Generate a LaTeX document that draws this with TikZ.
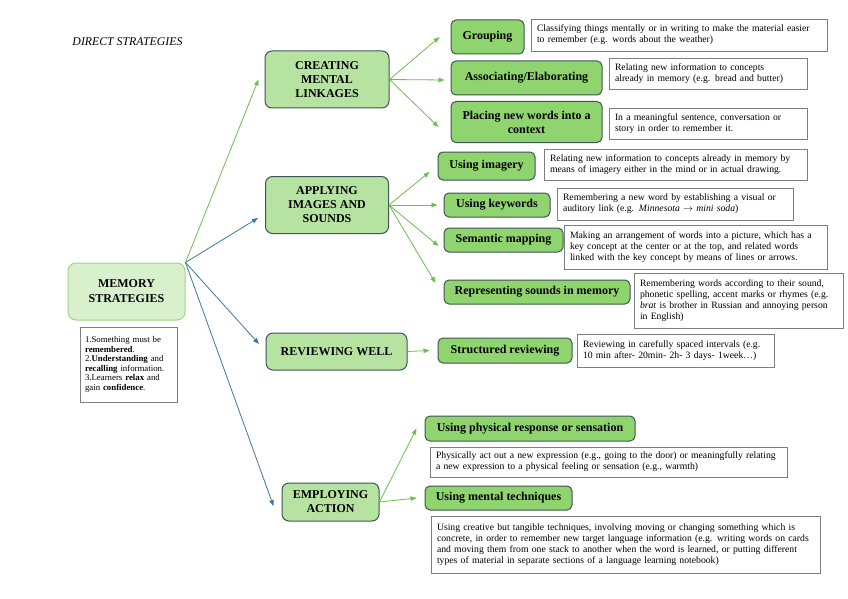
\documentclass[tikz,border=0pt]{standalone}
\usepackage{fontspec}
\setmainfont{Liberation Serif}
\usetikzlibrary{arrows.meta}
\definecolor{rootfill}{HTML}{D8F1CC}
\definecolor{rootdraw}{HTML}{9ED48A}
\definecolor{onefill}{HTML}{B6E3A1}
\definecolor{twofill}{HTML}{8FD46F}
\definecolor{boxdraw}{HTML}{3D5656}
\definecolor{descdraw}{HTML}{7F7F7F}
\definecolor{greenline}{HTML}{6CBF4D}
\definecolor{blueline}{HTML}{3B78A0}
\begin{document}
\begin{tikzpicture}[x=1pt,y=-1pt,
  rootbox/.style={draw=rootdraw, fill=rootfill, line width=1pt, rounded corners=8pt, align=center, inner sep=0pt, font=\fontsize{12}{15}\selectfont\bfseries},
  onebox/.style={draw=boxdraw, fill=onefill, line width=1pt, rounded corners=7pt, align=center, inner sep=0pt, font=\fontsize{12}{14}\selectfont\bfseries},
  twobox/.style={draw=boxdraw, fill=twofill, line width=1pt, rounded corners=5pt, align=center, inner sep=0pt, font=\fontsize{12}{14}\selectfont\bfseries},
  descbox/.style={draw=descdraw, fill=white, line width=0.9pt, align=left, inner xsep=6pt, inner ysep=0pt, font=\fontsize{9.7}{10.9}\selectfont},
  notebox/.style={draw=descdraw, fill=white, line width=1pt, align=left, inner xsep=5pt, inner ysep=0pt, font=\fontsize{8.8}{9.5}\selectfont},
  garrow/.style={draw=greenline, line width=0.8pt, -{Triangle[length=6pt,width=4.5pt]}},
  barrow/.style={draw=blueline, line width=0.8pt, -{Triangle[length=6pt,width=4.5pt]}}
]
\useasboundingbox[fill=white] (0,0) rectangle (848,599);

\node[font=\fontsize{11.8}{14}\selectfont\itshape] (title) at (127.5,42) {DIRECT STRATEGIES};

% root
\node[rootbox, minimum width=117pt, minimum height=57pt] (root) at (126.5,291.5) {MEMORY\\STRATEGIES};
\node[notebox, text width=87pt, minimum height=75pt] (note) at (128.5,364.5) {1.Something must be\\ \textbf{remembered}.\\ 2.\textbf{Understanding} and\\ \textbf{recalling} information.\\ 3.Learners \textbf{relax} and\\ gain \textbf{confidence}.};

% level 1
\node[onebox, minimum width=124pt, minimum height=57pt] (creating) at (327,79.5) {CREATING\\MENTAL\\LINKAGES};
\node[onebox, minimum width=123pt, minimum height=57pt] (applying) at (327,205) {APPLYING\\IMAGES AND\\SOUNDS};
\node[onebox, minimum width=141pt, minimum height=37pt] (reviewing) at (336.5,351.5) {REVIEWING WELL};
\node[onebox, minimum width=97pt, minimum height=38pt] (employing) at (330.5,502) {EMPLOYING\\ACTION};

% level 2
\node[twobox, minimum width=73pt, minimum height=34pt] (grouping) at (487.5,37) {Grouping};
\node[twobox, minimum width=151pt, minimum height=34pt] (assoc) at (526.5,78) {Associating/Elaborating};
\node[twobox, minimum width=151pt, minimum height=41pt] (placing) at (526.5,122) {Placing new words into a\\context};
\node[twobox, minimum width=97pt, minimum height=28pt] (imagery) at (486.5,166) {Using imagery};
\node[twobox, minimum width=106pt, minimum height=24pt] (keywords) at (497,205) {Using keywords};
\node[twobox, minimum width=119pt, minimum height=24pt] (semantic) at (503.5,240) {Semantic mapping};
\node[twobox, minimum width=186pt, minimum height=24pt] (sounds) at (537,292) {Representing sounds in memory};
\node[twobox, minimum width=134pt, minimum height=25pt] (structured) at (505,350.5) {Structured reviewing};
\node[twobox, minimum width=210pt, minimum height=25pt] (physical) at (530,428.5) {Using physical response or sensation};
\node[twobox, minimum width=147pt, minimum height=24pt] (mental) at (498.5,498) {Using mental techniques};

% descriptions
\node[descbox, text width=284pt, minimum height=32pt] (dgrouping) at (679,35) {Classifying things mentally or in writing to make the material easier\\ to remember (e.g. words about the weather)};
\node[descbox, text width=186pt, minimum height=31pt] (dassoc) at (708,73.5) {Relating new information to concepts\\ already in memory (e.g. bread and butter)};
\node[descbox, text width=186pt, minimum height=31pt] (dplacing) at (708,123.5) {In a meaningful sentence, conversation or\\ story in order to remember it.};
\node[descbox, text width=251pt, minimum height=31pt] (dimagery) at (675.5,164.5) {Relating new information to concepts already in memory by\\ means of imagery either in the mind or in actual drawing.};
\node[descbox, text width=224pt, minimum height=32pt] (dkeywords) at (675,204) {Remembering a new word by establishing a visual or\\ auditory link (e.g. \textit{Minnesota} $\rightarrow$ \textit{mini soda})};
\node[descbox, text width=251pt, minimum height=44pt] (dsemantic) at (695.5,247) {Making an arrangement of words into a picture, which has a\\ key concept at the center or at the top, and related words\\ linked with the key concept by means of lines or arrows.};
\node[descbox, text width=197pt, minimum height=55pt] (dsounds) at (738.5,300.5) {Remembering words according to their sound,\\ phonetic spelling, accent marks or rhymes (e.g.\\ \textit{brat} is brother in Russian and annoying person\\ in English)};
\node[descbox, text width=185pt, minimum height=33pt] (dstructured) at (675.5,350.5) {Reviewing in carefully spaced intervals (e.g.\\ 10 min after- 20min- 2h- 3 days- 1week…)};
\node[descbox, text width=345pt, minimum height=30pt] (dphysical) at (608.5,462) {Physically act out a new expression (e.g., going to the door) or meaningfully relating\\ a new expression to a physical feeling or sensation (e.g., warmth)};
\node[descbox, text width=377pt, minimum height=57pt] (dmental) at (625.5,544.5) {Using creative but tangible techniques, involving moving or changing something which is\\ concrete, in order to remember new target language information (e.g. writing words on cards\\ and moving them from one stack to another when the word is learned, or putting different\\ types of material in separate sections of a language learning notebook)};

% connectors root -> level 1
\draw[garrow] (root.north east) -- ([xshift=-6pt]creating.west);
\draw[barrow] (root.north east) -- ([xshift=-7pt,yshift=-13pt]applying.west);
\draw[barrow] (root.north east) -- ([xshift=-6.5pt,yshift=7.5pt]reviewing.west);
\draw[barrow] (root.north east) -- ([xshift=-8pt,yshift=-4pt]employing.west);

% level 1 -> level 2
\draw[garrow] (creating.east) -- ([xshift=-11pt]grouping.west);
\draw[garrow] (creating.east) -- ([xshift=-6pt,yshift=-2pt]assoc.west);
\draw[garrow] (creating.east) -- ([xshift=-12pt,yshift=-5pt]placing.west);
\draw[garrow] (applying.east) -- ([xshift=-8pt,yshift=-6pt]imagery.west);
\draw[garrow] (applying.east) -- ([xshift=-6pt]keywords.west);
\draw[garrow] (applying.east) -- ([xshift=-5pt,yshift=-6pt]semantic.west);
\draw[garrow] (applying.east) -- ([xshift=-8pt,yshift=9pt]sounds.west);
\draw[garrow] (reviewing.east) -- ([xshift=-8pt]structured.west);
\draw[garrow] (employing.east) -- ([xshift=-8pt]physical.west);
\draw[garrow] (employing.east) -- ([xshift=-8pt]mental.west);
\end{tikzpicture}
\end{document}
